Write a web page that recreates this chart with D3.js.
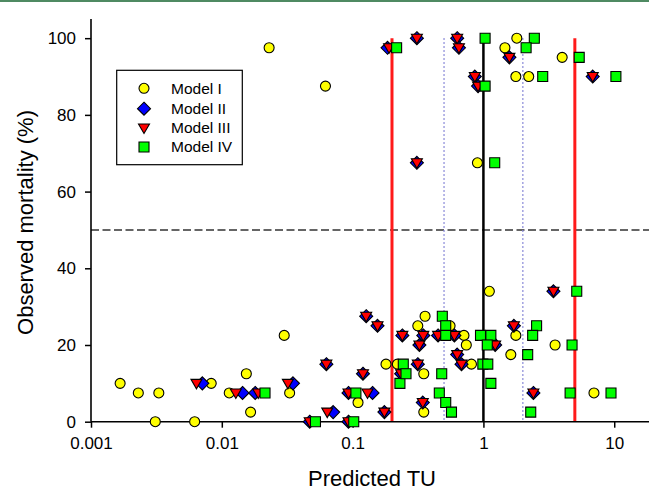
<!DOCTYPE html>
<html>
<head>
<meta charset="utf-8">
<script src="https://cdn.jsdelivr.net/npm/d3@7"></script>
<style>
  html, body { margin: 0; padding: 0; background: #fff; }
  svg { display: block; font-family: Arial, "Liberation Sans", sans-serif; }
</style>
</head>
<body>
<svg id="chart" width="649" height="491"></svg>
<script>
// Predicted toxic units (TU) vs observed mortality (%) for four mixture models
const modelI = [
  [0.00167, 10], [0.0023, 7.5], [0.0033, 7.5], [0.0031, 0], [0.0062, 0],
  [0.0083, 10], [0.0114, 7.5], [0.0154, 12.5], [0.0166, 2.5], [0.030, 22.5],
  [0.033, 7.5], [0.023, 97.5], [0.062, 87.5], [0.11, 5], [0.18, 15],
  [0.22, 15], [0.358, 27.5], [0.315, 25], [0.35, 12.5], [0.35, 2.5],
  [0.556, 25], [0.71, 22.5], [0.74, 20], [0.81, 15], [1.11, 34],
  [1.77, 22.5], [1.62, 17.5], [3.53, 20], [7.0, 7.5], [0.9, 67.5],
  [1.46, 97.5], [1.8, 100], [1.77, 90], [2.22, 90], [4.0, 95]
];
const modelII = [
  [0.0071, 10], [0.0144, 7.5], [0.018, 7.5], [0.035, 10], [0.047, 0],
  [0.063, 15], [0.071, 2.5], [0.093, 7.5], [0.093, 0], [0.12, 12.5],
  [0.127, 27.5], [0.142, 7.5], [0.155, 25], [0.175, 2.5], [0.235, 12.5],
  [0.24, 22.5], [0.315, 15], [0.324, 20], [0.344, 5], [0.347, 22.5],
  [0.45, 22.5], [0.6, 22.5], [0.63, 17.5], [0.68, 15], [1.23, 20],
  [1.71, 25], [2.41, 7.5], [3.43, 34], [0.185, 97.5], [0.31, 100],
  [0.63, 100], [0.65, 97.5], [0.86, 90], [0.91, 87.5], [1.58, 95],
  [6.85, 90], [0.31, 67.5]
];
const modelIII = [
  [0.0064, 10], [0.0128, 7.5], [0.019, 7.5], [0.032, 10], [0.047, 0],
  [0.063, 15], [0.064, 2.5], [0.093, 7.5], [0.093, 0], [0.12, 12.5],
  [0.127, 27.5], [0.13, 7.5], [0.155, 25], [0.175, 2.5], [0.235, 12.5],
  [0.24, 22.5], [0.315, 15], [0.324, 20], [0.344, 5], [0.347, 22.5],
  [0.45, 22.5], [0.6, 22.5], [0.63, 17.5], [0.68, 15], [1.23, 20],
  [1.71, 25], [2.41, 7.5], [3.43, 34], [0.19, 97.5], [0.31, 100],
  [0.63, 100], [0.65, 97.5], [0.86, 90], [0.91, 87.5], [1.58, 95],
  [6.85, 90], [0.31, 67.5]
];
const modelIV = [
  [0.0214, 7.5], [0.052, 0], [0.102, 0], [0.106, 7.5], [0.217, 97.5],
  [0.23, 10], [0.244, 15], [0.256, 12.5], [0.46, 7.5], [0.48, 12.5],
  [0.485, 27.5], [0.515, 25], [0.515, 22.5], [0.515, 5], [0.57, 2.5],
  [0.95, 22.5], [1.14, 22.5], [1.07, 20], [0.99, 15], [1.08, 15],
  [1.14, 10], [2.55, 25], [2.38, 22.5], [2.18, 17.5], [2.3, 2.5],
  [5.17, 34], [4.76, 20], [4.6, 7.5], [9.45, 7.5], [1.22, 67.5],
  [1.03, 100], [1.03, 87.5], [2.45, 100], [2.12, 97.5], [2.84, 90],
  [5.4, 95], [10.3, 90]
];

const seriesNames = ["Model I", "Model II", "Model III", "Model IV"];
const xTickValues = [0.001, 0.01, 0.1, 1, 10];
const xTickLabels = ["0.001", "0.01", "0.1", "1", "10"];
const yTickValues = [0, 20, 40, 60, 80, 100];
const redLimits = [0.2, 5];      // solid red reference lines
const blueLimits = [0.5, 2];     // dotted blue reference lines
const unitLine = 1;              // TU = 1
const halfMortality = 50;        // horizontal 50 % line

const svg = d3.select("#chart");
const W = 649, H = 491;

const x = d3.scaleLog().domain([0.001, 20]).range([91, 653.6]);
const y = d3.scaleLinear().domain([0, 105]).range([421.7, 19]);

// thin frame line along the top edge
svg.append("rect").attr("x", 0).attr("y", 0).attr("width", W).attr("height", 2)
  .attr("fill", "#4f8a62");

// reference lines
const refs = svg.append("g");
refs.append("line")
  .attr("x1", x(0.001)).attr("x2", W)
  .attr("y1", y(halfMortality)).attr("y2", y(halfMortality))
  .attr("stroke", "#333").attr("stroke-width", 1.5).attr("stroke-dasharray", "8,3.5");

blueLimits.forEach(v => {
  refs.append("line")
    .attr("x1", x(v)).attr("x2", x(v)).attr("y1", y(100)).attr("y2", y(0))
    .attr("stroke", "#8a8ad8").attr("stroke-width", 1.6).attr("stroke-dasharray", "1.5,2.5");
});
redLimits.forEach(v => {
  refs.append("line")
    .attr("x1", x(v)).attr("x2", x(v)).attr("y1", y(100)).attr("y2", y(0))
    .attr("stroke", "#ff1a1a").attr("stroke-width", 3);
});
refs.append("line")
  .attr("x1", x(unitLine)).attr("x2", x(unitLine)).attr("y1", y(100)).attr("y2", y(0))
  .attr("stroke", "#000").attr("stroke-width", 2.5);

// axes
const xAxis = d3.axisBottom(x).tickValues(xTickValues)
  .tickFormat((d, i) => xTickLabels[i]).tickSize(6).tickSizeOuter(0);
const yAxis = d3.axisLeft(y).tickValues(yTickValues).tickSize(6).tickSizeOuter(0);

const gx = svg.append("g").attr("transform", `translate(0,${y(0)})`).call(xAxis);
gx.select(".domain").attr("d", `M${x(0.001)},0H${W}`).attr("stroke-width", 1.6);
gx.selectAll(".tick line").attr("stroke-width", 1.5);
gx.selectAll(".tick text").attr("font-size", 17).attr("font-family", "Arial, 'Liberation Sans', sans-serif")
  .attr("fill", "#000").attr("y", 15).attr("dy", "0.71em");

const gy = svg.append("g").attr("transform", `translate(${x(0.001)},0)`).call(yAxis);
gy.select(".domain").attr("d", `M0,${y(105)}V${y(0)}`).attr("stroke-width", 1.6);
gy.selectAll(".tick line").attr("stroke-width", 1.5);
gy.selectAll(".tick text").attr("font-size", 17).attr("font-family", "Arial, 'Liberation Sans', sans-serif")
  .attr("fill", "#000").attr("x", -15);

// axis titles
svg.append("text").attr("x", 372).attr("y", 486).attr("text-anchor", "middle")
  .attr("font-size", 22).attr("fill", "#000").text("Predicted TU");
svg.append("text").attr("transform", "translate(32.5,222.5) rotate(-90)")
  .attr("text-anchor", "middle").attr("font-size", 22).attr("fill", "#000")
  .text("Observed mortality (%)");

// marker shapes
const shapes = {
  circle: "M5,0A5,5 0 1,1 -5,0A5,5 0 1,1 5,0Z",
  diamond: "M0,-6.5L6.5,0L0,6.5L-6.5,0Z",
  triangle: "M-5.5,-4L5.5,-4L0,5.5Z",
  square: "M-5,-5H5V5H-5Z"
};
const styles = [
  { data: modelI, shape: shapes.circle, fill: "#ffff00" },
  { data: modelII, shape: shapes.diamond, fill: "#0000ff" },
  { data: modelIII, shape: shapes.triangle, fill: "#ff0000" },
  { data: modelIV, shape: shapes.square, fill: "#00ff00" }
];

styles.forEach(s => {
  svg.append("g").selectAll("path").data(s.data).join("path")
    .attr("d", s.shape)
    .attr("transform", d => `translate(${x(d[0])},${y(d[1])})`)
    .attr("fill", s.fill).attr("stroke", "#000").attr("stroke-width", 1.1);
});

// legend
const lg = svg.append("g");
lg.append("rect").attr("x", 116.7).attr("y", 70.3).attr("width", 125.6).attr("height", 94.4)
  .attr("fill", "#fff").attr("stroke", "#000").attr("stroke-width", 1.2);
const rowY = [88.3, 108.7, 128, 147];
styles.forEach((s, i) => {
  lg.append("path").attr("d", s.shape).attr("transform", `translate(144,${rowY[i]})`)
    .attr("fill", s.fill).attr("stroke", "#000").attr("stroke-width", 1.1);
  lg.append("text").attr("x", 171).attr("y", rowY[i]).attr("dy", "0.35em")
    .attr("font-size", 15.5).attr("fill", "#000").text(seriesNames[i]);
});
</script>
</body>
</html>
